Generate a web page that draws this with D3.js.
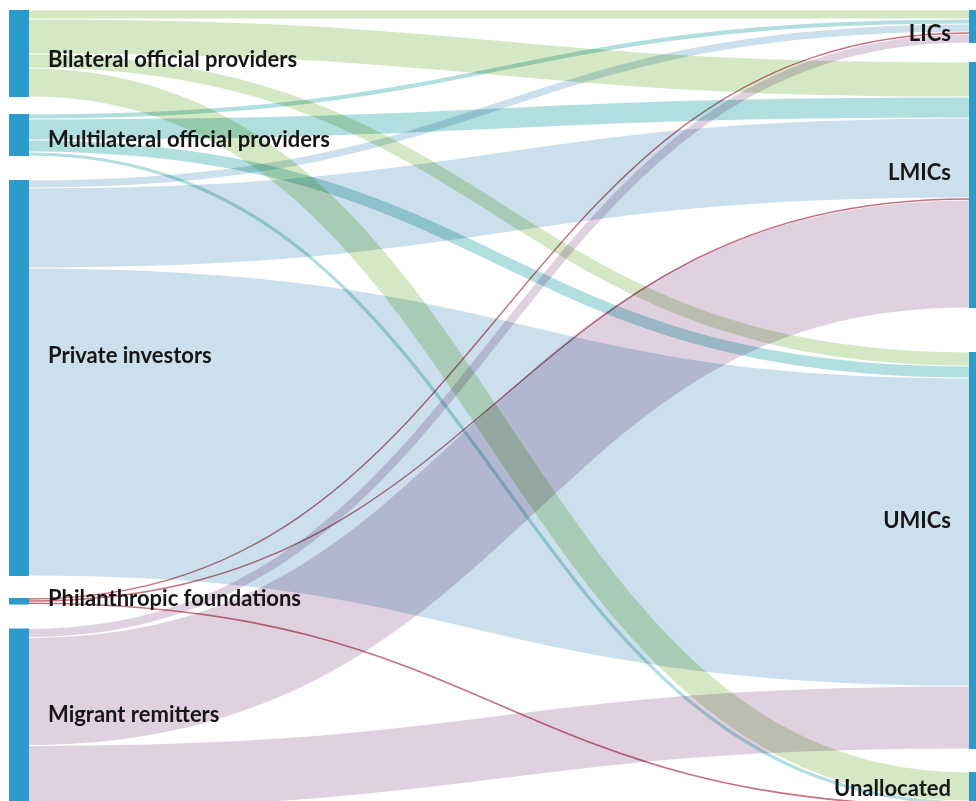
<!DOCTYPE html>
<html>
<head>
<meta charset="utf-8">
<script src="https://cdn.jsdelivr.net/npm/d3@7"></script>
<style>
  html, body { margin: 0; padding: 0; background: #fff; overflow: hidden; }
  #chart { width: 976px; height: 801px; }
  .link { fill: none; mix-blend-mode: multiply; }
  .label { font-family: Lato, "Open Sans", sans-serif; font-weight: 700; font-size: 22px; fill: #161616; }
</style>
</head>
<body>
<div id="chart"></div>
<script>
// Providers (left) and income groups (right)
const sources = ["Bilateral official providers", "Multilateral official providers", "Private investors", "Philanthropic foundations", "Migrant remitters"];
const targets = ["LICs", "LMICs", "UMICs", "Unallocated"];

// Flows from each provider to LICs, LMICs, UMICs, Unallocated
const bilateralFlows = [9, 35, 14, 29];
const multilateralFlows = [5, 21, 12, 4];
const privateFlows = [8, 80, 308, 0];
const philanthropicFlows = [2, 2, 0, 2.5];
const remitterFlows = [9, 108, 63, 0];

const flowsBySource = [bilateralFlows, multilateralFlows, privateFlows, philanthropicFlows, remitterFlows];
const linkColors = ["#d5e8c5", "#b1dede", "#cbdfec", "#c8707f", "#e0d1e1"];
const nodeColor = "#2a9bcb";

// Layout
const width = 976, height = 801;
const top0 = 10;
const nodeWidth = 20;
const leftX = 9, rightX = 969;
const leftGaps = [17, 24, 22, 24];
const rightGaps = [19, 44, 23];
// label baseline nudges relative to node centre
const leftLabelDy = [13, 11.5, -15.5, 5, 3.5];
const rightLabelDy = [14, -5.5, -22.5, 6.5];

const svg = d3.select("#chart")
    .append("svg")
    .attr("width", width)
    .attr("height", height);

const y = d3.scaleLinear().domain([0, 100]).range([0, 100]);

// Build nodes
const leftNodes = sources.map((name, i) => ({ name, value: d3.sum(flowsBySource[i]) }));
const rightNodes = targets.map((name, j) => ({ name, value: d3.sum(flowsBySource, f => f[j]) }));

function stackNodes(nodes, gaps) {
    let cur = top0;
    nodes.forEach((n, i) => {
        n.y0 = cur;
        n.y1 = cur + y(n.value);
        n.off = n.y0;
        cur = n.y1 + (gaps[i] || 0);
    });
}
stackNodes(leftNodes, leftGaps);
stackNodes(rightNodes, rightGaps);

// Build links: outgoing ordered by target, incoming ordered by source
const links = [];
leftNodes.forEach((s, i) => {
    flowsBySource[i].forEach((v, j) => {
        if (v <= 0) return;
        const w = y(v);
        links.push({ si: i, ti: j, w, sy: s.off + w / 2 });
        s.off += w;
    });
});
rightNodes.forEach((t, j) => {
    links.filter(l => l.ti === j).sort((a, b) => a.si - b.si).forEach(l => {
        l.ty = t.off + l.w / 2;
        t.off += l.w;
    });
});

const linkGen = d3.linkHorizontal();

svg.append("g")
    .selectAll("path")
    .data(links)
    .join("path")
    .attr("class", "link")
    .attr("d", d => linkGen({ source: [leftX + nodeWidth, d.sy], target: [rightX, d.ty] }))
    .attr("stroke", d => linkColors[d.si])
    .attr("stroke-width", d => Math.max(1.4, d.w - 0.8));

// Nodes
svg.append("g")
    .selectAll("rect")
    .data(leftNodes)
    .join("rect")
    .attr("x", leftX)
    .attr("y", d => d.y0)
    .attr("width", nodeWidth)
    .attr("height", d => d.y1 - d.y0)
    .attr("fill", nodeColor);

svg.append("g")
    .selectAll("rect")
    .data(rightNodes)
    .join("rect")
    .attr("x", rightX)
    .attr("y", d => d.y0)
    .attr("width", nodeWidth)
    .attr("height", d => d.y1 - d.y0)
    .attr("fill", nodeColor);

// Labels
svg.append("g")
    .selectAll("text")
    .data(leftNodes)
    .join("text")
    .attr("class", "label")
    .attr("x", leftX + nodeWidth + 19)
    .attr("y", (d, i) => (d.y0 + d.y1) / 2 + leftLabelDy[i])
    .text(d => d.name);

svg.append("g")
    .selectAll("text")
    .data(rightNodes)
    .join("text")
    .attr("class", "label")
    .attr("text-anchor", "end")
    .attr("x", rightX - 18)
    .attr("y", (d, i) => (d.y0 + d.y1) / 2 + rightLabelDy[i])
    .text(d => d.name);
</script>
</body>
</html>
